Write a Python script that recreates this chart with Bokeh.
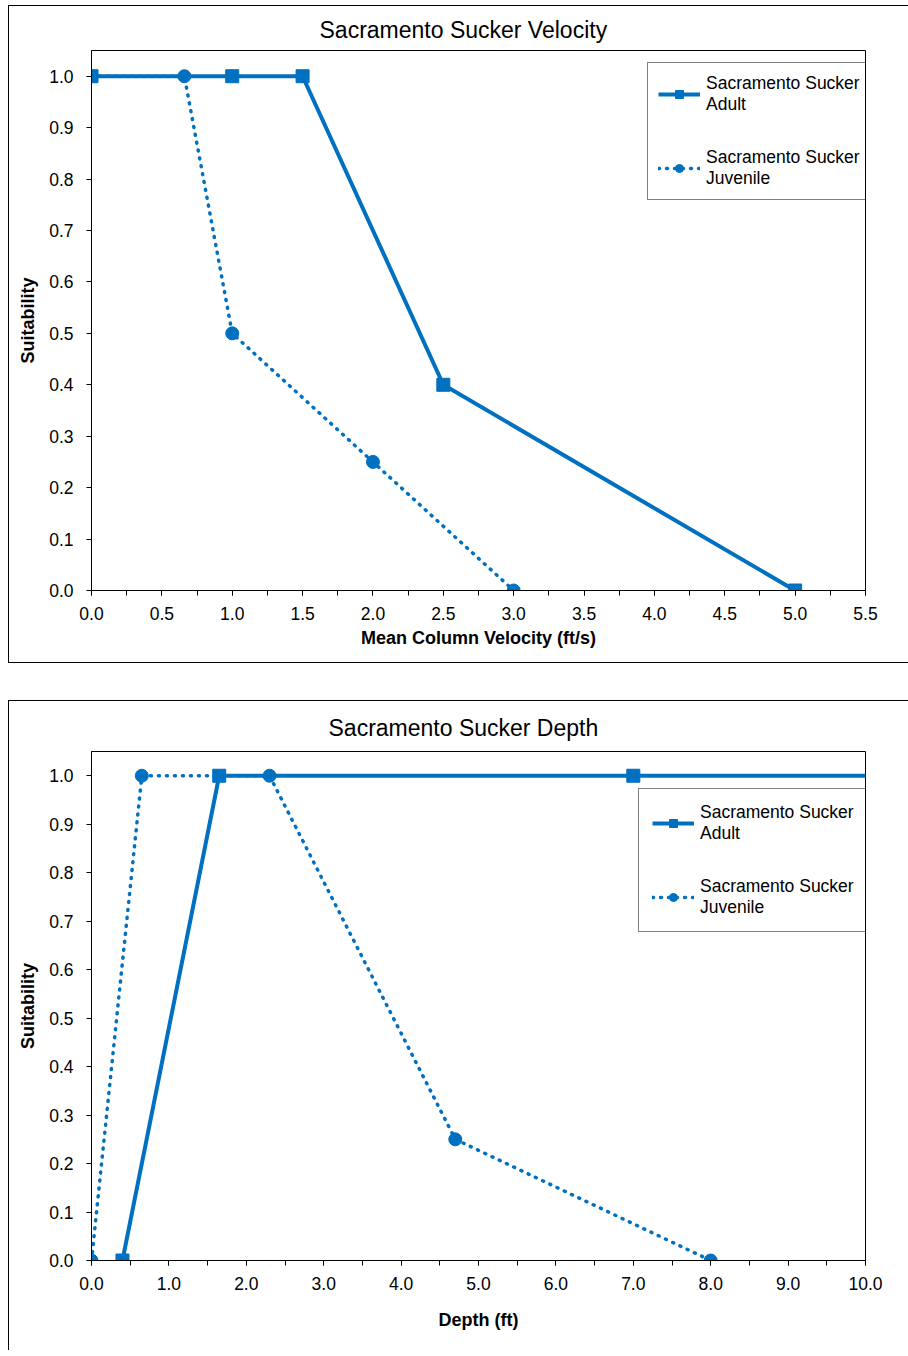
from bokeh.plotting import figure
from bokeh.models import (Range1d, SingleIntervalTicker, PrintfTickFormatter,
                          Legend, LegendItem)
from bokeh.layouts import column
from bokeh.embed import file_html
from bokeh.resources import INLINE

# ---- data ----
vel_adult_x = [0.0, 1.0, 1.5, 2.5, 5.0]
vel_adult_y = [1.0, 1.0, 1.0, 0.4, 0.0]
vel_juv_x = [0.0, 0.66, 1.0, 2.0, 3.0]
vel_juv_y = [1.0, 1.0, 0.5, 0.25, 0.0]

dep_adult_x = [0.4, 1.65, 7.0, 99.0]
dep_adult_y = [0.0, 1.0, 1.0, 1.0]
dep_juv_x = [0.0, 0.65, 2.3, 4.7, 8.0]
dep_juv_y = [0.0, 1.0, 1.0, 0.25, 0.0]

series_labels = ["Sacramento Sucker\nAdult", "Sacramento Sucker\nJuvenile"]
titles = ["Sacramento Sucker Velocity", "Sacramento Sucker Depth"]
x_labels = ["Mean Column Velocity (ft/s)", "Depth (ft)"]
y_label = "Suitability"

BLUE = "#0070C0"
FONT = "Liberation Sans"


def make(title, xlabel, xmax, xint, ax, ay, jx, jy, height, frame, title_off,
         title_standoff, tick_standoff, xlabel_standoff, legend_loc, legend_pad,
         legend_spacing, margin, border_styles):
    fl, fr, ft, fb = frame
    p = figure(width=900, height=height, output_backend="svg", toolbar_location=None,
               x_range=Range1d(0, xmax), y_range=Range1d(0, 1.05),
               min_border_left=fl, min_border_right=fr, min_border_top=ft,
               min_border_bottom=fb, margin=margin, styles=border_styles)
    p.background_fill_color = "white"
    p.border_fill_color = "white"
    p.outline_line_color = "black"
    p.outline_line_width = 1
    p.xgrid.visible = False
    p.ygrid.visible = False

    p.title.text = title
    p.title.text_font = FONT
    p.title.text_font_size = "23px"
    p.title.text_font_style = "normal"
    p.title.text_color = "black"
    p.title.text_line_height = 1.0
    p.title.align = "left"
    p.title.offset = title_off
    p.title.standoff = title_standoff

    xa = p.xaxis[0]
    xa.ticker = SingleIntervalTicker(interval=xint, num_minor_ticks=2)
    ya = p.yaxis[0]
    ya.ticker = SingleIntervalTicker(interval=0.1, num_minor_ticks=0)
    for a in (xa, ya):
        a.formatter = PrintfTickFormatter(format="%.1f")
        a.axis_line_color = "black"
        a.major_tick_line_color = "black"
        a.minor_tick_line_color = "black"
        a.major_tick_in = 0
        a.major_tick_out = 5
        a.minor_tick_in = 0
        a.minor_tick_out = 5
        a.major_label_text_font = FONT
        a.major_label_text_font_size = "17.5px"
        a.major_label_text_color = "black"
        a.axis_label_text_font = FONT
        a.axis_label_text_font_size = "18px"
        a.axis_label_text_font_style = "bold"
        a.axis_label_text_color = "black"
    xa.axis_label = xlabel
    xa.major_label_standoff = tick_standoff
    xa.axis_label_standoff = xlabel_standoff
    ya.axis_label = y_label
    ya.major_label_standoff = 13
    ya.axis_label_standoff = 8

    l1 = p.line(ax, ay, line_color=BLUE, line_width=4)
    s1 = p.scatter(ax, ay, marker="square", size=13, fill_color=BLUE, line_color=BLUE)
    l2 = p.line(jx, jy, line_color=BLUE, line_width=3.5, line_dash="1 7",
                line_cap="round")
    s2 = p.scatter(jx, jy, marker="circle", size=13, fill_color=BLUE, line_color=BLUE)

    legend = Legend(items=[LegendItem(label=series_labels[0], renderers=[l1, s1]),
                           LegendItem(label=series_labels[1], renderers=[l2, s2])],
                    location=legend_loc)
    legend.border_line_color = "black"
    legend.border_line_width = 1
    legend.background_fill_color = "white"
    legend.background_fill_alpha = 1
    legend.label_text_font = FONT
    legend.label_text_font_size = "17.5px"
    legend.label_text_color = "black"
    legend.padding = legend_pad
    legend.spacing = legend_spacing
    legend.margin = 0
    legend.glyph_width = 42
    legend.glyph_height = 20
    legend.label_standoff = 6
    p.add_layout(legend)
    return p


border_top = {"border-top": "1px solid black", "border-left": "1px solid black",
              "border-bottom": "1px solid black"}
border_bot = {"border-top": "1px solid black", "border-left": "1px solid black"}

# chart 1 canvas at page (9, 6), 900 x 658
p1 = make(titles[0], x_labels[0], 5.5, 0.5, vel_adult_x, vel_adult_y, vel_juv_x, vel_juv_y,
          658, (80, 43, 44, 74), 228, 15, 11, 5, (556, 390), 10, 32,
          (5, 0, 0, 8), border_top)
# chart 2 canvas at page (9, 701), 900 x 650
p2 = make(titles[1], x_labels[1], 10.0, 1.0, dep_adult_x, dep_adult_y, dep_juv_x, dep_juv_y,
          650, (82, 44, 50, 91), 237, 22, 11, 17, (547, 328), 13, 32,
          (37, 0, 0, 8), border_bot)

layout = column(p1, p2, spacing=0)
open("out.html", "w").write(file_html(layout, INLINE))
